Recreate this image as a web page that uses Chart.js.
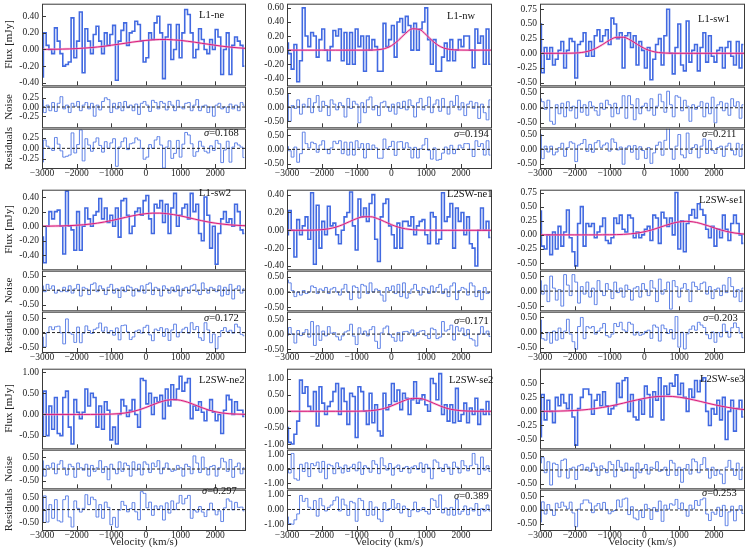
<!DOCTYPE html>
<html>
<head>
<meta charset="utf-8">
<script src="https://cdn.jsdelivr.net/npm/chart.js@4.4.1/dist/chart.umd.min.js"></script>
<style>
  body { margin: 0; background: #fff; width: 747px; height: 553px; position: relative; overflow: hidden; font-family: 'Liberation Serif', 'Times New Roman', serif; }
  canvas { position: absolute; }
  .lbl { position: absolute; font-size: 10.5px; line-height: 12px; color: #111; white-space: nowrap; }
</style>
</head>
<body>
<script>
// channel centres (km/s)
const vel = [-3000,-2920,-2840,-2760,-2680,-2600,-2520,-2440,-2360,-2280,-2200,-2120,-2040,-1960,-1880,-1800,-1720,-1640,-1560,-1480,
  -1400,-1320,-1240,-1160,-1080,-1000,-920,-840,-760,-680,-600,-520,-440,-360,-280,-200,-120,-40,40,120,
  200,280,360,440,520,600,680,760,840,920,1000,1080,1160,1240,1320,1400,1480,1560,1640,1720,
  1800,1880,1960,2040,2120,2200,2280,2360,2440,2520,2600,2680,2760,2840];
// velocities where the gaussian fit is sampled
const fitVel = [-3000,-2800,-2600,-2400,-2200,-2000,-1800,-1600,-1400,-1200,-1000,-800,-600,-400,-200,0,
  200,400,600,800,1000,1200,1400,1600,1800,2000,2200,2400,2600,2800,2860];

const names = ['L1-ne','L1-nw','L1-sw1','L1-sw2','L2SW-ne1','L2SW-se1','L2SW-ne2','L2SW-se2','L2SW-se3'];
const sigmas = ['0.168','0.194','0.211','0.172','0.171','0.203','0.297','0.389','0.253'];
const xTicks = [-3000,-2000,-1000,0,1000,2000];

// L1-ne
const flux1 = [-0.33,0.20,0.05,0.00,-0.05,0.26,0.10,-0.05,-0.20,-0.18,
  -0.15,0.38,-0.10,0.10,0.45,-0.28,0.25,0.10,-0.05,0.18,
  0.28,0.10,-0.05,0.20,0.05,0.18,0.29,-0.37,0.10,0.23,
  0.32,0.05,0.20,0.22,0.34,0.30,0.10,-0.15,-0.10,0.20,
  0.12,0.32,0.40,0.20,-0.35,0.15,0.30,-0.12,0.00,0.30,
  -0.10,0.20,0.48,0.42,0.20,-0.10,0.00,0.25,0.12,0.00,
  -0.05,0.12,0.00,0.24,0.15,-0.30,0.00,0.20,-0.30,0.05,
  0.15,0.10,0.05,-0.20];
const noise1 = [0.20,-0.15,0.05,-0.10,0.12,-0.12,0.10,0.28,-0.05,0.05,
  -0.15,0.10,0.02,0.15,-0.10,0.05,0.12,-0.05,0.10,-0.25,
  0.05,-0.08,0.15,0.25,0.20,-0.15,0.10,-0.05,0.12,-0.10,
  0.15,-0.02,0.05,-0.10,0.08,-0.20,0.10,0.15,0.05,-0.12,
  0.18,0.12,-0.05,0.15,0.10,-0.08,0.15,0.05,-0.10,0.18,
  0.00,-0.05,0.10,0.12,-0.10,0.05,0.20,-0.10,0.02,0.05,
  -0.15,0.00,-0.25,0.05,0.10,-0.05,0.00,-0.15,0.08,-0.05,
  0.05,-0.10,0.12,0.05];
const resid1 = [-0.33,0.20,0.05,0.00,-0.05,0.26,0.10,-0.06,-0.21,-0.19,
  -0.16,0.37,-0.11,0.09,0.44,-0.30,0.23,0.08,-0.07,0.15,
  0.25,0.07,-0.09,0.16,0.00,0.13,0.23,-0.43,0.03,0.16,
  0.25,-0.03,0.11,0.13,0.25,0.20,0.00,-0.26,-0.21,0.09,
  0.00,0.20,0.28,0.08,-0.47,0.03,0.18,-0.24,-0.12,0.19,
  -0.21,0.10,0.38,0.32,0.11,-0.19,-0.08,0.17,0.05,-0.07,
  -0.11,0.06,-0.05,0.19,0.11,-0.34,-0.04,0.17,-0.33,0.03,
  0.13,0.08,0.03,-0.22];
const fit1 = [0.001,0.002,0.003,0.005,0.007,0.011,0.016,0.022,0.030,0.039,0.051,0.063,0.075,0.088,0.099,0.109,
  0.116,0.120,0.120,0.116,0.109,0.099,0.088,0.075,0.063,0.051,0.039,0.030,0.022,0.016,0.014];

// L1-nw
const flux2 = [0.10,-0.05,-0.27,0.08,-0.45,-0.15,0.60,0.20,0.05,0.25,
  0.20,-0.10,0.15,0.30,0.00,-0.15,0.05,0.28,0.20,0.30,
  -0.15,0.25,-0.20,0.25,-0.20,0.30,0.05,0.20,-0.30,0.20,
  0.00,0.15,0.05,-0.30,-0.30,0.38,0.05,0.15,0.35,-0.10,
  0.40,0.45,0.25,0.48,0.35,0.00,0.38,0.00,0.30,0.40,
  0.60,0.15,-0.20,0.15,-0.30,-0.30,-0.10,0.10,-0.15,0.15,
  -0.15,0.00,0.15,0.05,0.20,0.20,0.00,-0.25,0.30,0.10,
  0.20,-0.20,0.30,-0.20];
const noise2 = [0.45,-0.50,0.05,-0.05,0.25,-0.25,0.10,0.00,0.30,-0.20,
  0.15,0.40,-0.15,0.20,0.05,-0.30,0.25,0.10,-0.10,0.15,
  0.05,-0.35,0.30,-0.05,0.20,0.10,-0.55,0.15,-0.20,0.25,
  0.35,-0.10,0.05,-0.30,0.15,0.20,0.00,-0.15,0.10,-0.25,
  0.15,-0.05,0.20,-0.10,0.25,0.05,-0.35,0.15,0.30,-0.10,
  0.05,0.35,-0.20,0.10,0.25,-0.15,0.30,0.00,-0.25,0.20,
  0.05,0.40,-0.10,0.15,-0.30,0.10,0.20,-0.05,0.15,-0.40,
  0.10,-0.20,-0.45,0.25];
const resid2 = [0.10,-0.05,-0.27,0.08,-0.45,-0.15,0.60,0.20,0.05,0.25,
  0.20,-0.10,0.15,0.30,0.00,-0.15,0.05,0.28,0.20,0.30,
  -0.15,0.25,-0.20,0.25,-0.20,0.30,0.05,0.20,-0.30,0.20,
  0.00,0.15,0.05,-0.31,-0.31,0.36,0.02,0.10,0.28,-0.21,
  0.26,0.27,0.04,0.23,0.07,-0.30,0.07,-0.30,0.02,0.15,
  0.38,-0.03,-0.34,0.05,-0.38,-0.35,-0.13,0.08,-0.16,0.14,
  -0.15,0.00,0.15,0.05,0.20,0.20,0.00,-0.25,0.30,0.10,
  0.20,-0.20,0.30,-0.20];
const fit2 = [0,0,0,0,0,0,0,0,0,0,0,0,0.001,0.005,0.021,0.063,
  0.140,0.236,0.303,0.295,0.217,0.122,0.051,0.017,0.004,0.001,0,0,0,0,0];

// L1-sw1
const flux3 = [0.50,-0.33,0.10,-0.10,0.10,-0.20,-0.10,0.05,0.20,-0.25,
  0.05,0.25,0.20,-0.42,0.15,0.20,0.35,-0.05,0.20,-0.05,
  0.30,0.40,0.20,0.30,0.40,0.15,0.60,0.50,0.25,0.35,
  -0.25,0.30,0.35,0.10,0.30,-0.20,0.20,0.05,-0.25,0.10,
  -0.45,-0.10,0.15,0.25,-0.20,0.30,0.75,0.00,-0.35,0.10,
  0.50,-0.20,-0.30,0.55,-0.15,0.05,0.15,-0.30,0.10,0.35,
  -0.15,0.30,-0.05,-0.15,0.05,0.10,-0.25,0.10,0.20,-0.05,
  -0.20,0.20,-0.25,0.15];
const noise3 = [0.30,0.20,-0.05,0.25,-0.45,-0.55,0.10,-0.20,0.15,-0.30,
  0.20,-0.10,0.05,-0.35,0.25,-0.15,0.10,-0.25,0.20,0.05,
  -0.10,-0.25,0.15,-0.05,0.25,0.10,-0.30,0.15,-0.20,0.00,
  0.40,-0.35,0.40,0.10,-0.40,0.30,-0.20,0.05,0.15,-0.10,
  0.30,-0.25,0.05,0.45,0.20,-0.15,0.55,0.10,-0.30,0.40,
  0.35,-0.10,0.25,0.05,-0.45,0.10,-0.05,0.05,0.20,-0.30,
  0.15,-0.20,0.35,-0.50,0.10,0.20,-0.10,0.15,-0.25,0.30,
  0.05,0.20,-0.35,0.10];
const resid3 = [0.50,-0.33,0.10,-0.10,0.10,-0.20,-0.10,0.05,0.20,-0.25,
  0.05,0.25,0.20,-0.43,0.14,0.19,0.33,-0.08,0.16,-0.11,
  0.22,0.29,0.06,0.14,0.21,-0.07,0.35,0.23,-0.03,0.07,
  -0.52,0.04,0.11,-0.11,0.12,-0.35,0.08,-0.05,-0.32,0.05,
  -0.49,-0.13,0.13,0.24,-0.21,0.30,0.75,0.00,-0.35,0.10,
  0.50,-0.20,-0.30,0.55,-0.15,0.05,0.15,-0.30,0.10,0.35,
  -0.15,0.30,-0.05,-0.15,0.05,0.10,-0.25,0.10,0.20,-0.05,
  -0.20,0.20,-0.25,0.15];
const fit3 = [0,0,0,0,0.001,0.004,0.014,0.038,0.083,0.151,0.224,0.273,0.273,0.224,0.151,0.083,
  0.038,0.014,0.004,0.001,0,0,0,0,0,0,0,0,0,0,0];

// L1-sw2
const flux4 = [-0.15,-0.50,0.00,0.20,0.10,0.20,0.22,0.00,-0.38,0.48,
  0.00,-0.05,-0.33,0.20,-0.33,0.00,0.25,0.10,0.00,0.15,
  0.20,0.38,0.10,0.25,0.05,0.15,0.00,0.25,-0.15,0.35,
  0.38,0.15,-0.10,0.00,0.20,0.25,0.15,0.35,0.42,0.10,
  -0.10,0.30,0.25,0.35,0.05,0.30,-0.10,0.25,0.45,0.00,
  0.15,0.25,0.30,0.10,0.45,0.20,0.30,-0.10,-0.20,0.40,
  0.15,-0.30,0.00,-0.52,-0.10,0.10,0.20,0.05,0.10,0.00,
  0.30,0.20,-0.05,-0.10];
const noise4 = [0.15,-0.05,0.20,0.05,0.15,-0.10,0.00,-0.05,0.10,-0.05,
  0.15,-0.10,0.05,0.20,-0.20,0.10,0.05,-0.15,0.20,0.25,
  -0.05,0.15,0.05,-0.15,0.10,0.20,-0.10,0.05,-0.25,0.10,
  -0.05,0.15,0.10,-0.20,0.05,-0.05,0.15,-0.10,0.20,0.25,
  -0.15,0.10,0.05,-0.20,0.15,0.05,-0.10,0.10,-0.05,0.15,
  -0.20,0.05,0.10,-0.10,0.15,0.20,-0.05,-0.15,0.25,0.05,
  -0.10,0.10,0.05,-0.05,0.15,-0.20,0.10,-0.15,0.20,-0.30,
  0.05,0.15,-0.10,0.05];
const resid4 = [-0.15,-0.50,0.00,0.20,0.10,0.20,0.22,-0.01,-0.39,0.47,
  -0.01,-0.06,-0.34,0.19,-0.35,-0.02,0.23,0.07,-0.03,0.11,
  0.16,0.33,0.05,0.19,-0.02,0.07,-0.09,0.16,-0.25,0.24,
  0.26,0.02,-0.24,-0.15,0.05,0.09,-0.02,0.18,0.25,-0.08,
  -0.28,0.12,0.07,0.17,-0.13,0.13,-0.27,0.09,0.29,-0.15,
  0.01,0.12,0.18,-0.02,0.34,0.10,0.21,-0.18,-0.27,0.34,
  0.09,-0.35,-0.05,-0.56,-0.14,0.07,0.17,0.03,0.08,-0.02,
  0.29,0.19,-0.06,-0.11];
const fit4 = [0.001,0.001,0.003,0.005,0.008,0.013,0.020,0.030,0.042,0.058,0.077,0.098,0.120,0.141,0.159,0.172,
  0.179,0.179,0.172,0.159,0.141,0.120,0.098,0.077,0.058,0.042,0.030,0.020,0.013,0.008,0.007];

// L2SW-ne1
const flux5 = [-0.05,0.22,0.00,-0.30,0.12,-0.05,0.05,0.15,-0.10,0.42,
  -0.38,0.28,-0.20,0.10,-0.05,0.27,0.05,0.08,-0.05,-0.15,
  0.00,0.15,0.20,0.43,0.05,-0.22,0.35,0.15,0.25,0.10,
  0.30,0.40,-0.10,-0.35,0.15,0.30,0.35,0.05,-0.05,-0.20,
  0.08,-0.20,0.10,0.10,0.05,0.15,-0.05,0.05,0.10,0.12,
  -0.05,-0.15,0.20,0.15,-0.15,-0.10,0.42,0.10,0.15,0.30,
  -0.20,0.25,0.10,0.20,-0.05,0.15,-0.15,-0.20,-0.40,0.00,
  0.25,0.00,0.10,-0.08];
const noise5 = [0.40,0.30,0.05,-0.15,0.00,-0.10,0.05,-0.05,0.00,0.20,
  0.15,-0.05,0.10,0.05,0.15,-0.05,0.10,0.15,0.00,-0.10,
  0.10,0.25,0.00,-0.25,0.20,0.15,-0.20,0.25,0.20,-0.05,
  0.30,0.00,0.10,0.05,-0.10,-0.30,0.15,0.05,0.20,-0.05,
  0.25,-0.15,0.30,-0.20,-0.05,0.10,0.25,0.05,-0.10,0.15,
  0.10,-0.05,0.20,0.00,0.15,0.25,-0.05,0.10,-0.15,0.20,
  0.30,-0.25,0.05,0.15,0.10,-0.10,0.30,0.20,-0.15,0.05,
  -0.25,0.15,-0.05,0.00];
const resid5 = [-0.05,0.22,0.00,-0.30,0.12,-0.05,0.05,0.15,-0.10,0.42,
  -0.38,0.28,-0.21,0.10,-0.06,0.25,0.03,0.05,-0.09,-0.20,
  -0.06,0.07,0.11,0.33,-0.07,-0.35,0.21,0.00,0.10,-0.06,
  0.15,0.25,-0.24,-0.48,0.04,0.20,0.27,-0.02,-0.11,-0.24,
  0.05,-0.23,0.08,0.09,0.04,0.14,-0.06,0.05,0.10,0.12,
  -0.05,-0.15,0.20,0.15,-0.15,-0.10,0.42,0.10,0.15,0.30,
  -0.20,0.25,0.10,0.20,-0.05,0.15,-0.15,-0.20,-0.40,0.00,
  0.25,0.00,0.10,-0.08];
const fit5 = [0,0,0,0.001,0.002,0.007,0.017,0.035,0.063,0.098,0.131,0.152,0.152,0.131,0.098,0.063,
  0.035,0.017,0.007,0.002,0.001,0,0,0,0,0,0,0,0,0,0];

// L2SW-se1
const flux6 = [0.42,-0.20,-0.25,0.00,-0.35,0.05,-0.25,0.15,-0.20,0.05,
  0.44,-0.05,-0.30,-0.55,0.20,0.50,-0.20,0.20,0.15,0.20,
  -0.05,0.05,0.15,0.30,-0.10,-0.15,-0.05,0.30,0.20,0.35,
  0.10,0.05,0.35,0.30,-0.05,0.05,-0.05,0.00,0.10,0.15,
  -0.10,0.35,0.30,-0.15,0.40,0.30,0.15,0.30,0.00,0.75,
  -0.25,0.25,-0.30,0.20,0.35,0.45,0.30,0.55,0.45,0.35,
  0.10,-0.05,0.15,-0.20,0.10,-0.05,0.35,0.10,-0.10,0.20,
  0.35,0.20,0.00,-0.15];
const noise6 = [0.35,-0.10,0.20,-0.35,0.50,0.10,-0.30,0.05,-0.50,0.55,
  0.20,-0.15,0.55,0.30,-0.40,0.15,-0.10,0.30,-0.20,0.10,
  -0.45,0.35,0.00,-0.15,0.25,0.05,-0.25,0.30,-0.05,0.10,
  -0.20,0.20,0.05,-0.30,0.10,0.15,-0.20,0.25,0.05,-0.15,
  0.35,0.10,-0.35,0.40,-0.10,0.05,0.30,-0.60,0.35,0.15,
  -0.20,0.10,0.25,0.05,-0.35,0.30,0.15,0.05,0.25,0.30,
  -0.10,0.15,-0.25,0.05,0.10,-0.15,0.20,-0.05,0.45,0.15,
  -0.20,0.05,-0.35,0.10];
const resid6 = [0.42,-0.20,-0.25,0.00,-0.35,0.05,-0.25,0.15,-0.20,0.05,
  0.44,-0.05,-0.30,-0.55,0.20,0.50,-0.20,0.20,0.15,0.20,
  -0.05,0.05,0.15,0.30,-0.10,-0.15,-0.05,0.30,0.20,0.34,
  0.09,0.04,0.34,0.28,-0.08,0.02,-0.09,-0.05,0.04,0.08,
  -0.19,0.25,0.18,-0.28,0.25,0.13,-0.03,0.10,-0.21,0.53,
  -0.48,0.01,-0.54,-0.04,0.11,0.22,0.08,0.34,0.25,0.17,
  -0.07,-0.20,0.02,-0.32,0.00,-0.14,0.28,0.04,-0.15,0.16,
  0.32,0.17,-0.02,-0.17];
const fit6 = [0,0,0,0,0,0,0,0,0,0.001,0.002,0.004,0.009,0.018,0.032,0.055,
  0.086,0.125,0.166,0.204,0.230,0.240,0.230,0.204,0.166,0.125,0.086,0.055,0.032,0.018,0.014];

// L2SW-ne2
const flux7 = [-0.50,0.55,-0.50,0.20,-0.35,0.40,-0.45,-0.50,0.40,0.55,
  -0.30,-0.70,0.35,0.05,-0.10,0.05,0.60,0.20,0.50,0.40,
  -0.30,0.20,-0.35,0.30,0.10,-0.60,-0.30,-0.70,0.00,0.35,
  0.20,-0.05,0.10,0.35,0.00,-0.30,0.85,0.80,0.25,0.50,
  0.00,0.40,0.30,0.45,-0.10,0.60,0.20,0.70,0.35,0.60,
  0.90,0.55,0.75,0.85,-0.10,0.20,0.10,0.30,0.05,-0.15,
  0.10,0.35,0.05,-0.15,0.00,-0.45,0.10,0.45,0.35,0.00,
  0.30,0.10,0.10,-0.05];
const noise7 = [0.35,-0.30,0.15,0.05,0.25,-0.20,0.20,0.35,0.05,-0.25,
  0.20,0.10,-0.35,0.25,0.05,-0.05,0.20,-0.30,0.15,-0.10,
  0.05,0.35,-0.15,0.10,-0.45,0.20,0.00,-0.20,0.30,-0.10,
  0.25,0.15,-0.30,0.30,-0.05,0.20,-0.25,0.30,0.20,-0.15,
  0.25,0.10,0.35,-0.20,0.05,0.25,0.00,-0.10,-0.05,0.15,
  0.05,-0.30,0.20,0.10,-0.20,0.55,0.25,-0.15,0.50,0.05,
  -0.25,0.10,0.15,-0.30,0.05,0.45,0.30,-0.10,0.40,-0.35,
  0.10,0.25,-0.20,0.05];
const resid7 = [-0.50,0.55,-0.50,0.20,-0.35,0.40,-0.45,-0.50,0.40,0.55,
  -0.30,-0.70,0.35,0.05,-0.10,0.05,0.60,0.20,0.50,0.40,
  -0.30,0.20,-0.35,0.30,0.09,-0.61,-0.31,-0.71,-0.02,0.33,
  0.17,-0.09,0.04,0.28,-0.09,-0.41,0.72,0.65,0.07,0.30,
  -0.23,0.15,0.02,0.15,-0.42,0.27,-0.14,0.35,0.00,0.26,
  0.57,0.23,0.45,0.57,-0.35,-0.03,-0.10,0.12,-0.10,-0.28,
  -0.01,0.26,-0.02,-0.21,-0.05,-0.48,0.07,0.43,0.34,-0.01,
  0.29,0.09,0.10,-0.05];
const fit7 = [0,0,0,0,0,0,0,0,0.001,0.003,0.008,0.017,0.034,0.064,0.107,0.164,
  0.229,0.290,0.334,0.350,0.334,0.290,0.229,0.164,0.107,0.064,0.034,0.017,0.008,0.003,0.002];

// L2SW-se2
const flux8 = [-0.50,-0.95,-1.00,-0.70,-0.30,0.95,0.55,0.75,0.15,0.00,
  0.60,-0.45,0.75,0.25,-0.10,0.15,0.30,0.60,0.85,-0.10,
  0.70,0.30,-0.40,0.55,0.45,-0.80,0.75,0.60,0.00,-0.40,
  0.55,-0.35,0.20,-0.60,-0.75,0.55,0.05,0.20,0.85,0.30,
  0.65,0.05,0.55,0.40,-0.10,0.35,0.90,0.25,0.35,0.50,
  0.20,0.00,1.00,0.85,0.35,1.15,-0.10,0.20,-0.30,0.20,
  -0.35,0.70,-0.30,-0.10,0.25,-0.35,0.10,-0.10,0.40,-0.40,
  0.05,-0.10,0.30,-0.10];
const noise8 = [-0.10,-0.30,1.05,-0.70,-0.80,0.30,-0.20,0.40,-0.55,0.35,
  0.20,0.45,-0.25,0.50,-0.70,0.30,0.20,-0.35,0.40,0.10,
  -0.30,0.25,-0.20,0.10,0.30,-0.15,0.45,-0.40,0.20,0.05,
  -0.25,0.55,0.30,-0.35,0.75,0.20,-0.10,0.35,-0.45,0.10,
  0.25,-0.20,0.05,0.15,-0.30,0.10,0.20,-0.05,0.40,-0.25,
  0.30,0.05,-0.70,0.60,0.45,0.05,-0.20,0.30,0.10,-0.40,
  0.45,0.10,-0.30,0.55,0.20,-0.15,0.20,1.05,0.30,-0.40,
  0.80,-0.10,0.20,-0.20];
const resid8 = [-0.50,-0.95,-1.00,-0.70,-0.30,0.95,0.55,0.75,0.15,0.00,
  0.60,-0.45,0.75,0.25,-0.10,0.15,0.30,0.60,0.85,-0.10,
  0.70,0.30,-0.40,0.55,0.45,-0.80,0.75,0.60,-0.01,-0.41,
  0.53,-0.38,0.16,-0.65,-0.82,0.46,-0.07,0.06,0.67,0.09,
  0.40,-0.24,0.23,0.05,-0.48,-0.04,0.50,-0.15,-0.04,0.13,
  -0.14,-0.31,0.73,0.62,0.15,0.99,-0.23,0.10,-0.38,0.14,
  -0.39,0.67,-0.32,-0.12,0.24,-0.36,0.10,-0.10,0.40,-0.40,
  0.05,-0.10,0.30,-0.10];
const fit8 = [0,0,0,0,0,0,0,0,0,0.001,0.002,0.006,0.018,0.043,0.089,0.162,
  0.252,0.339,0.393,0.393,0.339,0.252,0.162,0.089,0.043,0.018,0.006,0.002,0.001,0,0];

// L2SW-se3
const flux9 = [-0.45,0.30,-0.15,0.20,0.00,-0.20,0.25,0.10,0.30,0.15,
  0.05,0.30,-0.10,-0.60,0.05,0.25,0.40,0.40,0.30,-0.05,
  0.20,0.30,0.10,0.35,0.10,-0.05,0.05,0.10,0.50,0.25,
  0.55,0.60,0.00,0.30,-0.10,-0.15,0.20,-0.05,0.45,0.30,
  -0.10,0.35,0.20,0.60,-0.15,0.45,0.30,0.50,0.45,0.65,
  0.30,0.50,0.25,0.00,0.40,0.25,0.55,0.35,0.55,0.60,
  0.00,-0.25,0.05,-0.05,0.20,-0.15,0.25,-0.50,0.00,0.20,
  -0.35,0.05,0.20,-0.10];
const noise9 = [0.25,0.45,-0.10,0.30,-0.55,0.25,0.20,-0.25,0.35,0.40,
  -0.30,0.05,0.10,-0.35,0.15,0.20,0.00,0.10,-0.05,0.25,
  0.10,-0.20,0.15,0.05,-0.10,0.30,0.20,-0.25,0.35,0.10,
  -0.05,0.25,0.00,0.10,-0.30,0.25,-0.10,0.05,0.20,-0.15,
  0.10,0.05,0.30,-0.05,0.00,0.10,-0.20,0.35,0.25,-0.20,
  0.10,-0.45,0.05,0.20,-0.15,0.40,0.30,-0.10,0.20,0.45,
  0.05,-0.30,0.10,-0.20,0.00,-0.15,-0.50,0.10,0.35,0.05,
  -0.20,0.25,-0.35,0.10];
const resid9 = [-0.45,0.30,-0.15,0.20,0.00,-0.20,0.25,0.09,0.29,0.14,
  0.04,0.29,-0.11,-0.62,0.03,0.23,0.37,0.37,0.26,-0.10,
  0.15,0.24,0.03,0.28,0.02,-0.14,-0.06,-0.02,0.37,0.11,
  0.40,0.44,-0.17,0.12,-0.30,-0.36,-0.02,-0.28,0.21,0.05,
  -0.35,0.09,-0.06,0.33,-0.42,0.18,0.03,0.23,0.18,0.39,
  0.05,0.26,0.01,-0.23,0.18,0.04,0.35,0.17,0.38,0.44,
  -0.15,-0.39,-0.08,-0.16,0.10,-0.24,0.17,-0.58,-0.07,0.14,
  -0.40,0.00,0.16,-0.13];
const fit9 = [0.001,0.002,0.004,0.007,0.011,0.017,0.025,0.037,0.052,0.071,0.094,0.120,0.149,0.179,0.207,0.233,
  0.253,0.266,0.270,0.266,0.253,0.233,0.207,0.179,0.149,0.120,0.094,0.071,0.052,0.037,0.033];

// axis limits and ticks per panel
const fluxLim = [[-0.43,0.55],[-0.50,0.66],[-0.545,0.845],[-0.59,0.50],[-0.437,0.455],[-0.61,0.80],[-0.80,1.08],[-1.13,1.30],[-0.656,0.76]];
const noiseLim = [[-0.55,0.55],[-0.71,0.71],[-0.65,0.70],[-0.69,0.67],[-0.60,0.70],[-0.64,0.68],[-0.81,0.81],[-1.36,1.31],[-0.67,0.74]];
const residLim = [[-0.47,0.47],[-0.65,0.72],[-0.65,0.70],[-0.67,0.72],[-0.60,0.75],[-0.64,0.69],[-0.82,0.80],[-1.39,1.34],[-0.74,0.75]];
const fluxTicks = [[-0.4,-0.2,0,0.2,0.4],[-0.4,-0.2,0,0.2,0.4,0.6],[-0.5,-0.25,0,0.25,0.5,0.75],[-0.4,-0.2,0,0.2,0.4],[-0.4,-0.2,0,0.2,0.4],
  [-0.5,-0.25,0,0.25,0.5,0.75],[-0.5,0,0.5,1],[-1,-0.5,0,0.5,1],[-0.5,-0.25,0,0.25,0.5]];
const noiseTicks = [[-0.25,0,0.25],[-0.5,0,0.5],[-0.5,0,0.5],[-0.5,0,0.5],[-0.5,0,0.5],[-0.5,0,0.5],[-0.5,0,0.5],[-1,0,1],[-0.5,0,0.5]];
const residTicks = [[-0.25,0,0.25],[-0.5,0,0.5],[-0.5,0,0.5],[-0.5,0,0.5],[-0.5,0,0.5],[-0.5,0,0.5],[-0.5,0,0.5],[-1,0,1],[-0.5,0,0.5]];

const fluxes = [flux1,flux2,flux3,flux4,flux5,flux6,flux7,flux8,flux9];
const noises = [noise1,noise2,noise3,noise4,noise5,noise6,noise7,noise8,noise9];
const resids = [resid1,resid2,resid3,resid4,resid5,resid6,resid7,resid8,resid9];
const fits = [fit1,fit2,fit3,fit4,fit5,fit6,fit7,fit8,fit9];

// layout (page pixels)
const xMin = -3000, xMax = 2860;
const colLeft = [42, 287, 540];
const colWidth = [203, 204, 204];
const rowTop = [3, 189, 368];
const fluxH = [83, 81, 81];
const noiseH = [42, 41, 40];
const residH = [40, 41, 41];
const nameX = [199, 447, 698, 199, 447, 699, 199, 449, 700];
const nameY = [15, 16, 19, 193, 194, 200, 380, 380, 379];
const sigX = [204, 454, 702, 204, 454, 703, 202, 454, 702];
const sigY = [133, 134, 134, 318, 321, 318, 491, 496, 493];

const serif = "'Liberation Serif', 'Times New Roman', serif";
const tickFont = { family: serif, size: 9.5 };
const titleFont = { family: serif, size: 11 };

// box round each subplot plus inward ticks (left and bottom)
const frame = {
  id: 'frame',
  afterDatasetsDraw(chart) {
    const { ctx, chartArea: a, scales } = chart;
    ctx.save();
    ctx.strokeStyle = '#3a3a3a';
    ctx.lineWidth = 1;
    ctx.strokeRect(a.left + 0.5, a.top + 0.5, a.right - a.left, a.bottom - a.top);
    ctx.beginPath();
    scales.y.ticks.forEach(t => {
      const y = Math.round(scales.y.getPixelForValue(t.value)) + 0.5;
      ctx.moveTo(a.left, y); ctx.lineTo(a.left + 4, y);
    });
    xTicks.forEach(v => {
      const x = Math.round(scales.x.getPixelForValue(v)) + 0.5;
      ctx.moveTo(x, a.bottom); ctx.lineTo(x, a.bottom - 4);
    });
    ctx.stroke();
    ctx.restore();
  }
};

function steps(arr, color, width) {
  return { data: vel.map((v, i) => ({ x: v, y: arr[i] })), borderColor: color, borderWidth: width,
    stepped: 'middle', pointRadius: 0, fill: false, order: 3 };
}
function fitLines(arr) {
  const pts = fitVel.map((v, i) => ({ x: v, y: arr[i] }));
  return [
    { data: pts, borderColor: '#d81b7a', borderWidth: 1, cubicInterpolationMode: 'monotone', pointRadius: 0, order: 0 },
    { data: pts, borderColor: 'rgba(240,150,195,0.6)', borderWidth: 2.4, cubicInterpolationMode: 'monotone', pointRadius: 0, order: 1 }
  ];
}
function zeroLine() {
  return { data: [{ x: xMin, y: 0 }, { x: xMax, y: 0 }], borderColor: '#222', borderWidth: 1,
    borderDash: [3, 2], pointRadius: 0, order: 0 };
}

// xMode: 0 no labels, 1 tick labels, 2 tick labels + title
function addChart(c) {
  const yW = 42, padTop = 8, padR = 4;
  const padBot = c.xMode ? 0 : 8;
  const xH = c.xMode === 2 ? 19 : (c.xMode === 1 ? 13 : 0);
  const cw = yW + c.w + padR, ch = padTop + c.h + xH + padBot;
  const cv = document.createElement('canvas');
  cv.width = cw; cv.height = ch;
  cv.style.left = (c.left - yW) + 'px';
  cv.style.top = (c.top - padTop) + 'px';
  cv.style.width = cw + 'px';
  cv.style.height = ch + 'px';
  document.body.appendChild(cv);

  new Chart(cv, {
    type: 'line',
    data: { datasets: c.datasets },
    plugins: [frame],
    options: {
      responsive: false,
      animation: false,
      layout: { padding: { top: padTop, right: padR, bottom: padBot, left: 0 } },
      plugins: { legend: { display: false }, tooltip: { enabled: false } },
      scales: {
        x: {
          type: 'linear', min: xMin, max: xMax,
          display: c.xMode > 0,
          grid: { display: false, drawTicks: false }, border: { display: false },
          afterBuildTicks: s => { s.ticks = xTicks.map(v => ({ value: v })); },
          afterFit: s => { s.height = xH; },
          ticks: { padding: 0, maxRotation: 0, autoSkip: false, color: '#222', font: tickFont,
            callback: v => v < 0 ? '\u2212' + (-v) : String(v) },
          title: { display: c.xMode === 2, text: 'Velocity (km/s)', color: '#222', font: titleFont, padding: 0 }
        },
        y: {
          min: c.yLim[0], max: c.yLim[1],
          grid: { display: false, drawTicks: false }, border: { display: false },
          afterBuildTicks: s => { s.ticks = c.yTicks.map(v => ({ value: v })); },
          afterFit: s => { s.width = yW; },
          ticks: { padding: 3, color: '#222', font: tickFont, callback: v => v.toFixed(2) },
          title: { display: !!c.yTitle, text: c.yTitle, color: '#222', font: titleFont, padding: { top: 3, bottom: 0 } }
        }
      }
    }
  });
}

function addLabel(x, yc, html) {
  const d = document.createElement('div');
  d.className = 'lbl';
  d.innerHTML = html;
  d.style.left = x + 'px';
  d.style.top = (yc - 6) + 'px';
  document.body.appendChild(d);
}

names.forEach((name, k) => {
  const col = k % 3, row = Math.floor(k / 3);
  const left = colLeft[col], w = colWidth[col];
  let top = rowTop[row];

  addChart({ left, top, w, h: fluxH[row], yLim: fluxLim[k], yTicks: fluxTicks[k],
    yTitle: col === 0 ? 'Flux [mJy]' : '', xMode: 0,
    datasets: [...fitLines(fits[k]), steps(fluxes[k], '#4169e1', 1.6)] });
  top += fluxH[row];

  addChart({ left, top, w, h: noiseH[row], yLim: noiseLim[k], yTicks: noiseTicks[k],
    yTitle: col === 0 ? 'Noise' : '', xMode: 0,
    datasets: [zeroLine(), steps(noises[k], '#5f82e6', 1)] });
  top += noiseH[row];

  addChart({ left, top, w, h: residH[row], yLim: residLim[k], yTicks: residTicks[k],
    yTitle: col === 0 ? 'Residuals' : '', xMode: row === 2 ? 2 : 1,
    datasets: [zeroLine(), steps(resids[k], '#5f82e6', 1)] });

  addLabel(nameX[k], nameY[k], name);
  addLabel(sigX[k], sigY[k], '<i>\u03c3</i>=' + sigmas[k]);
});
</script>
</body>
</html>
